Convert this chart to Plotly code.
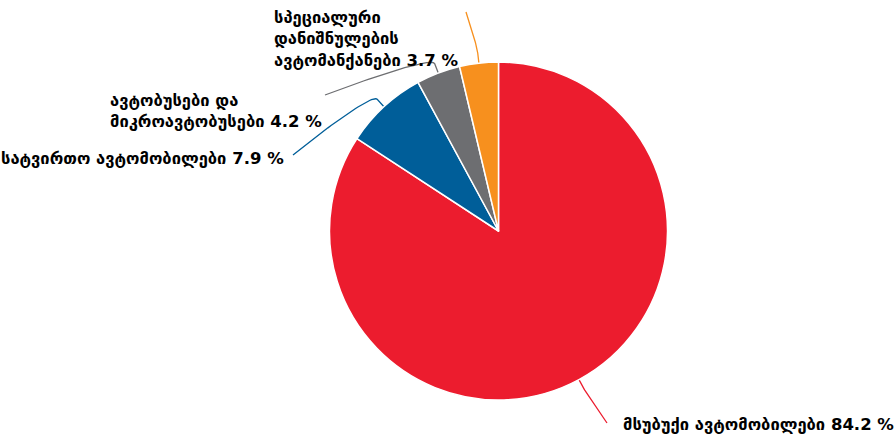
import numpy as np
import plotly.graph_objects as go

# მონაცემები
categories = ["მსუბუქი ავტომობილები", "სატვირთო ავტომობილები",
              "ავტობუსები და მიკროავტობუსები", "სპეციალური დანიშნულების ავტომანქანები"]
values = [84.2, 7.9, 4.2, 3.7]
colors = ["#EC1C2E", "#005E99", "#6D6E71", "#F7901E"]
label_text = ["მსუბუქი ავტომობილები", "სატვირთო ავტომობილები",
              "ავტობუსები და<br>მიკროავტობუსები", "სპეციალური<br>დანიშნულების<br>ავტომანქანები"]

W, H = 895, 439
cx, cy, r = 498.5, 231, 169

# label placement (pixels): anchor x, y, xanchor, connector start
label_pos = [(621, 424, "left"), (286, 158, "right"), (108, 111, "left"), (272, 39, "left")]
conn_start = [(607, 423), (293, 155), (325, 95), (466, 12)]

fig = go.Figure()
fig.add_trace(go.Pie(
    labels=categories, values=values, sort=False, direction="clockwise", rotation=0,
    marker=dict(colors=colors, line=dict(color="white", width=1.5)),
    textinfo="none", hoverinfo="label+percent", showlegend=False,
    domain=dict(x=[(cx - r) / W, (cx + r) / W], y=[1 - (cy + r) / H, 1 - (cy - r) / H]),
))

# connectors (soft curves from slice edge to label)
cum = np.cumsum([0] + values)
t = np.linspace(0, 1, 40)
for i, v in enumerate(values):
    mid = np.radians((cum[i] + v / 2) / cum[-1] * 360)
    dx, dy = np.sin(mid), -np.cos(mid)
    tx, ty = cx + r * dx, cy + r * dy
    bx, by = cx + (r + 10) * dx, cy + (r + 10) * dy
    sx, sy = conn_start[i]
    p0, p1, p2, p3 = np.array([sx, sy]), np.array([sx, sy]), np.array([2 * bx - tx, 2 * by - ty]), np.array([bx, by])
    pts = ((1 - t) ** 3)[:, None] * p0 + (3 * (1 - t) ** 2 * t)[:, None] * p1 \
        + (3 * (1 - t) * t ** 2)[:, None] * p2 + (t ** 3)[:, None] * p3
    xs = list(pts[:, 0]) + [tx]
    ys = list(pts[:, 1]) + [ty]
    fig.add_trace(go.Scatter(x=xs, y=ys, mode="lines", line=dict(color=colors[i], width=1.3),
                             hoverinfo="skip", showlegend=False))

for i, (lx, ly, xa) in enumerate(label_pos):
    fig.add_annotation(x=lx, y=ly, xref="x", yref="y", xanchor=xa, yanchor="middle",
                       align="left", showarrow=False,
                       text=f"<b>{label_text[i]} {values[i]} %</b>",
                       font=dict(family="DejaVu Sans", size=16.5, color="#000000"))

fig.update_layout(
    width=W, height=H, margin=dict(l=0, r=0, t=0, b=0),
    paper_bgcolor="white", plot_bgcolor="rgba(0,0,0,0)",
    xaxis=dict(range=[0, W], visible=False, fixedrange=True),
    yaxis=dict(range=[H, 0], visible=False, fixedrange=True),
)
fig.write_html("out.html", config={"displayModeBar": False},
               post_script="document.body.style.margin='0';")
